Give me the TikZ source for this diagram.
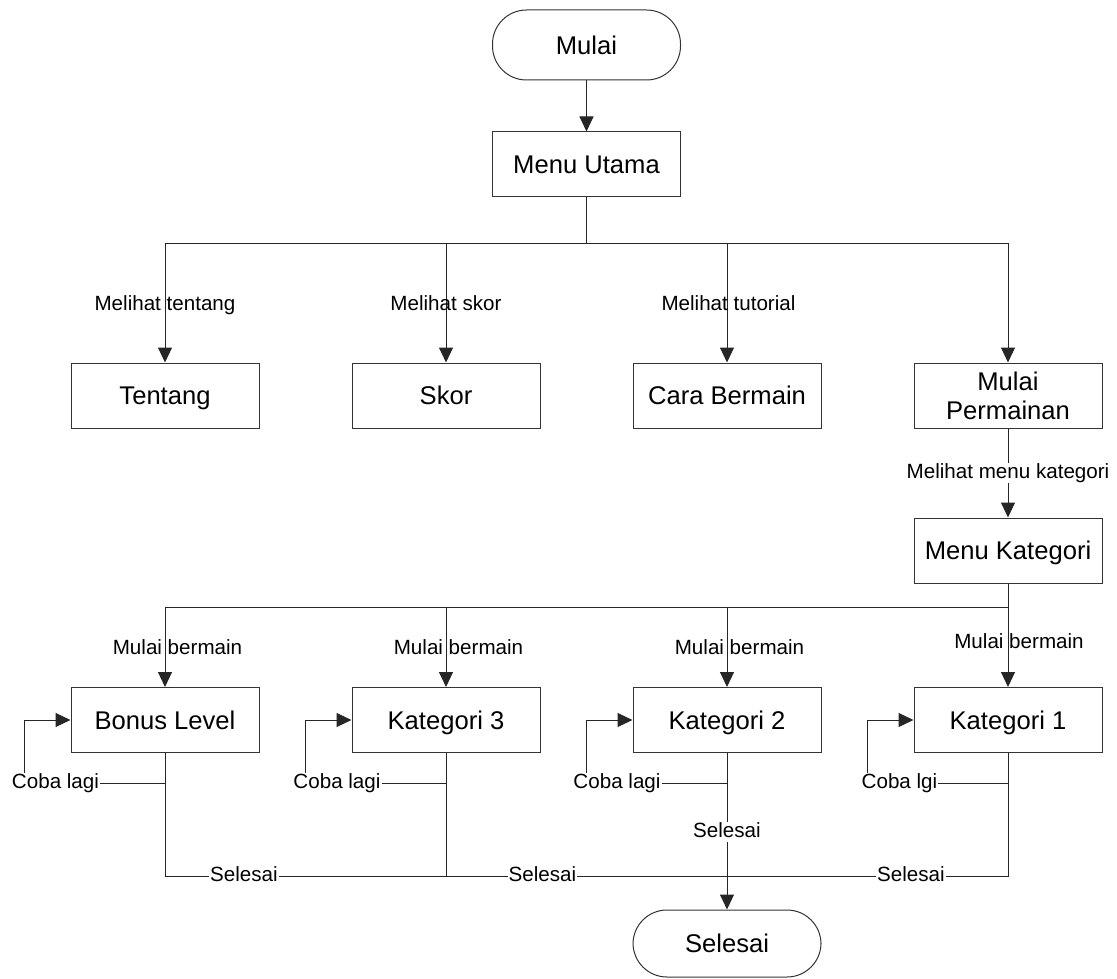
\documentclass[tikz,border=0pt]{standalone}
\usepackage{fontspec}
\setmainfont{Liberation Sans}
\usetikzlibrary{arrows.meta,calc}
\begin{document}
\begin{tikzpicture}[x=1pt,y=-1pt,
  box/.style={draw=black!80, line width=1pt, minimum width=188pt, minimum height=65pt, inner sep=0pt,
              font=\fontsize{25.6}{29}\selectfont, align=center, text height=18.4pt, text depth=0pt},
  term/.style={box, rounded corners=34pt, minimum height=70pt},
  lbl/.style={font=\fontsize{20.6}{24}\selectfont, inner sep=1pt, text height=14.8pt, text depth=0pt},
  wlbl/.style={lbl, fill=white, text depth=3pt},
  conn/.style={draw=black!85, line width=1pt},
  arr/.style={conn, -{Triangle[length=15pt,width=14pt]}},
]
\useasboundingbox (0,0) rectangle (1117,979);

% nodes
\node[term] (mulai) at (586.5,45) {Mulai};
\node[box] (menu) at (586.5,164.5) {Menu Utama};
\node[box] (tentang) at (165,395.5) {Tentang};
\node[box] (skor) at (446,395.5) {Skor};
\node[box] (cara) at (727,395.5) {Cara Bermain};
\node[box, text height={}, text depth={}] (mp) at (1008,395.5) {Mulai\\Permainan};
\node[box] (mk) at (1008,550.5) {Menu Kategori};
\node[box] (bonus) at (165,720) {Bonus Level};
\node[box] (k3) at (446,720) {Kategori 3};
\node[box] (k2) at (727,720) {Kategori 2};
\node[box] (k1) at (1008,720) {Kategori 1};
\node[term, minimum height=67pt] (selesai) at (727,943.5) {Selesai};

% top part
\coordinate (j1) at (586.5,243);
\draw[arr] (mulai) -- (menu);
\draw[conn] (menu) -- (j1);
\draw[conn] (tentang.north |- j1) -- (mp.north |- j1);
\draw[arr] (tentang.north |- j1) -- (tentang);
\draw[arr] (skor.north |- j1) -- (skor);
\draw[arr] (cara.north |- j1) -- (cara);
\draw[arr] (mp.north |- j1) -- (mp);
\node[lbl] (l1) at (165,303) {Melihat tentang};
\node[lbl] (l2) at (446,303) {Melihat skor};
\node[lbl] (l3) at (728.5,303) {Melihat tutorial};

\draw[arr] (mp) -- (mk) node[wlbl, midway] (l4) {Melihat menu kategori};

% category level
\coordinate (j2) at (1008,607);
\draw[conn] (mk) -- (j2);
\draw[conn] (bonus.north |- j2) -- (j2);
\draw[arr] (bonus.north |- j2) -- (bonus);
\draw[arr] (k3.north |- j2) -- (k3);
\draw[arr] (k2.north |- j2) -- (k2);
\draw[arr] (k1.north |- j2) -- (k1);
\node[lbl] (m1) at (177.5,647) {Mulai bermain};
\node[lbl] (m2) at (458.5,647) {Mulai bermain};
\node[lbl] (m3) at (739.5,647) {Mulai bermain};
\node[lbl] (m4) at (1019,641) {Mulai bermain};

% retry loops
\foreach \b in {bonus,k3,k2,k1}{
  \coordinate (\b-r) at ($(\b.south)+(0,30)$);
  \coordinate (\b-c) at ($(\b.west)+(-46,0)$);
  \draw[arr] (\b-r) -| (\b-c) -- (\b.west);
}
\node[wlbl] (c1) at (55.5,782.5) {Coba lagi};
\node[wlbl] (c2) at (337,782.5) {Coba lagi};
\node[wlbl] (c3) at (617,782.5) {Coba lagi};
\node[wlbl] (c4) at (899.5,782.5) {Coba lgi};

% finish
\coordinate (bot) at (727,876);
\draw[conn] (bonus) |- (bot);
\draw[conn] (k3) -- (k3 |- bot);
\draw[conn] (k1) |- (bot);
\draw[arr] (k2) -- (selesai);
\node[wlbl] (s1) at (244,876) {Selesai};
\node[wlbl] (s2) at (542.5,876) {Selesai};
\node[wlbl] (s3) at (911,876) {Selesai};
\node[wlbl] (s4) at (727,832) {Selesai};
\end{tikzpicture}
\end{document}
